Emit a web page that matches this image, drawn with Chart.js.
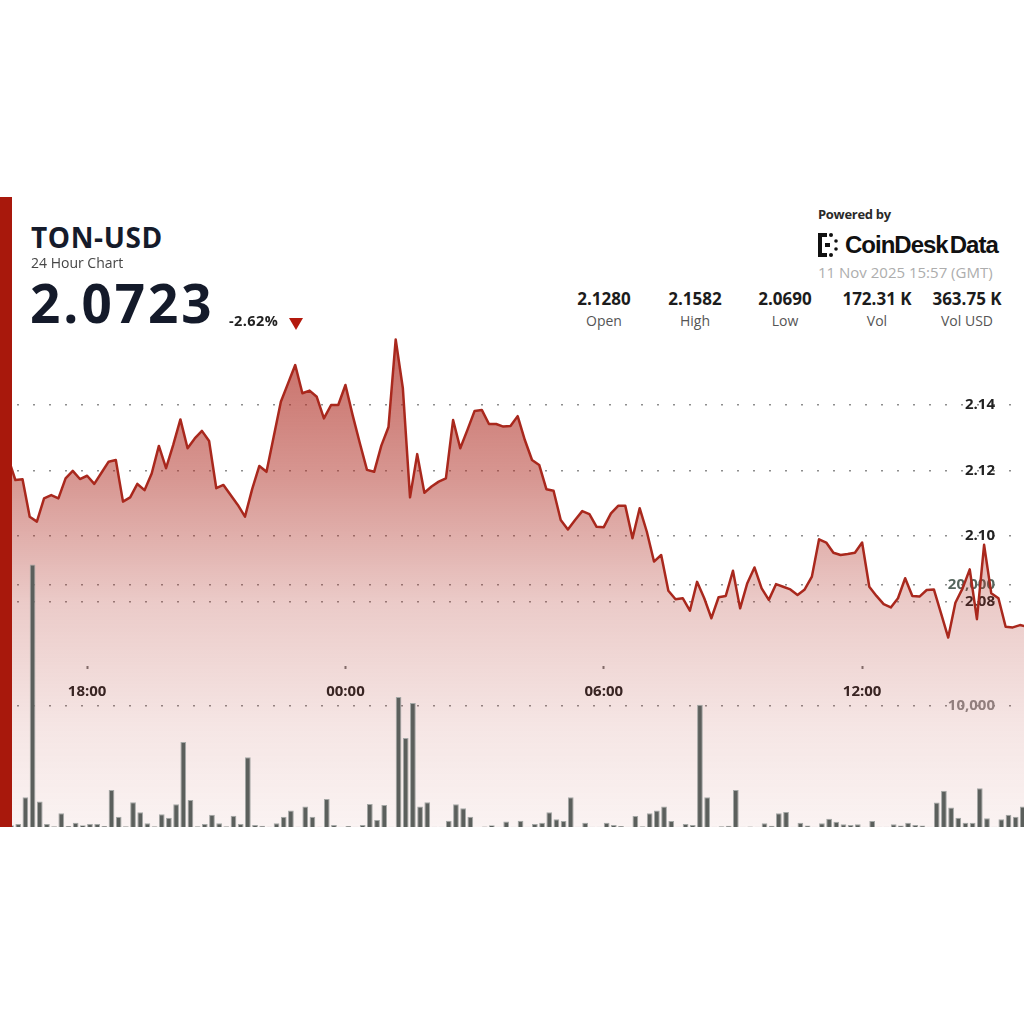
<!DOCTYPE html>
<html lang="en">
<head>
<meta charset="utf-8">
<title>TON-USD 24 Hour Chart</title>
<script src="https://cdn.jsdelivr.net/npm/chart.js@4.4.1/dist/chart.umd.min.js"></script>
<style>
  html, body { margin: 0; padding: 0; background: #fff; }
  body { font-family: "Open Sans", "Noto Sans", sans-serif; }
  #page { position: relative; width: 1024px; height: 1024px; overflow: hidden; background: #fff; }
  #chart-wrap { position: absolute; left: 0; top: 330px; width: 1024px; height: 497px; }
  #redbar { position: absolute; left: 0; top: 197px; width: 12px; height: 630px; background: #a8180c; z-index: 5; }
  .t { position: absolute; line-height: 1; white-space: nowrap; }
  #title { left: 31px; top: 223px; font-size: 28px; font-weight: 700; color: #151b2b; letter-spacing: 0.6px; }
  #sub { left: 31px; top: 256px; font-size: 14px; color: #454545; }
  #price { left: 30px; top: 276px; font-size: 53px; font-weight: 700; color: #141a2a; letter-spacing: 3px; }
  #change { left: 229px; top: 314px; font-size: 14.5px; font-weight: 700; color: #222; letter-spacing: 0.4px; }
  #down { position: absolute; left: 289px; top: 318px; width: 0; height: 0;
          border-left: 7px solid transparent; border-right: 7px solid transparent; border-top: 12px solid #b3190d; }
  #powered { left: 818px; top: 208px; font-size: 13px; font-weight: 700; color: #2a2a2a; letter-spacing: -0.3px; }
  #logo { position: absolute; left: 818px; top: 233px; }
  #brand { left: 845px; top: 233px; font-family: "Liberation Sans", Arial, sans-serif; font-size: 24px; font-weight: 700; color: #111; letter-spacing: -1px; }
  #brand span { margin-left: 2px; }
  #stamp { left: 818px; top: 265px; font-size: 15px; color: #adadad; }
  .sv { width: 110px; text-align: center; top: 290px; font-size: 17px; font-weight: 700; color: #1c1c1c; }
  .sl { width: 110px; text-align: center; top: 314px; font-size: 14px; color: #555; }
</style>
</head>
<body>
<div id="page">
  <div id="chart-wrap"><canvas id="chart" width="1024" height="497"></canvas></div>
  <div id="redbar"></div>

  <div class="t" id="title">TON-USD</div>
  <div class="t" id="sub">24 Hour Chart</div>
  <div class="t" id="price">2.0723</div>
  <div class="t" id="change">-2.62%</div>
  <div id="down"></div>

  <div class="t" id="powered">Powered by</div>
  <svg id="logo" width="22" height="24" viewBox="0 0 22 24">
    <rect x="0" y="0" width="4" height="24" fill="#111"/>
    <rect x="0" y="0" width="9" height="4" fill="#111"/>
    <rect x="0" y="20" width="9" height="4" fill="#111"/>
    <circle cx="13" cy="2" r="2" fill="#111"/>
    <circle cx="13" cy="22" r="2" fill="#111"/>
    <rect x="7" y="10" width="5" height="4" fill="#111"/>
    <circle cx="18" cy="8" r="1.8" fill="#111"/>
    <circle cx="18" cy="16" r="1.8" fill="#111"/>
  </svg>
  <div class="t" id="brand">CoinDesk<span>Data</span></div>
  <div class="t" id="stamp">11 Nov 2025 15:57 (GMT)</div>
  <div id="stats"></div>
</div>

<script>
// 10-minute samples from 16:00 (index 0) to 15:50 (index 143)
const prices = [
  2.1280, 2.1238, 2.1171, 2.1173, 2.1059, 2.1044, 2.1115, 2.1125, 2.1115, 2.1176,
  2.1199, 2.1174, 2.1184, 2.1159, 2.1193, 2.1227, 2.1232, 2.1105, 2.1118, 2.1159,
  2.1140, 2.1191, 2.1275, 2.1207, 2.1278, 2.1356, 2.1268, 2.1298, 2.1321, 2.1290,
  2.1146, 2.1156, 2.1125, 2.1095, 2.1059, 2.1143, 2.1214, 2.1196, 2.1303, 2.1410,
  2.1466, 2.1522, 2.1436, 2.1444, 2.1425, 2.1359, 2.1400, 2.1400, 2.1461, 2.1369,
  2.1284, 2.1202, 2.1196, 2.1276, 2.1333, 2.1600, 2.1451, 2.1118, 2.1250, 2.1132,
  2.1151, 2.1166, 2.1176, 2.1354, 2.1268, 2.1324, 2.1382, 2.1385, 2.1342, 2.1342,
  2.1334, 2.1336, 2.1366, 2.1293, 2.1232, 2.1217, 2.1143, 2.1138, 2.1049, 2.1020,
  2.1049, 2.1076, 2.1067, 2.1028, 2.1027, 2.1069, 2.1092, 2.1092, 2.0993, 2.1085,
  2.1013, 2.0922, 2.0942, 2.0833, 2.0807, 2.0810, 2.0772, 2.0860, 2.0810, 2.0749,
  2.0813, 2.0817, 2.0894, 2.0779, 2.0856, 2.0904, 2.0840, 2.0805, 2.0853, 2.0845,
  2.0837, 2.0820, 2.0837, 2.0876, 2.0990, 2.0980, 2.0949, 2.0942, 2.0945, 2.0949,
  2.0980, 2.0845, 2.0817, 2.0792, 2.0782, 2.0810, 2.0871, 2.0817, 2.0815, 2.0835,
  2.0837, 2.0764, 2.0690, 2.0796, 2.0840, 2.0898, 2.0746, 2.0973, 2.0825, 2.0810,
  2.0723, 2.0721, 2.0728, 2.0723
];

const volumes = [
  100, 150, 250, 2450, 21650, 2100, 250, 60, 1130, 80,
  350, 150, 250, 250, 80, 3060, 850, 60, 2040, 1210,
  300, 60, 1050, 770, 1880, 7000, 2230, 60, 250, 1000,
  300, 60, 930, 250, 5760, 160, 100, 30, 300, 850,
  1350, 30, 1680, 850, 30, 2310, 170, 20, 80, 20,
  170, 1900, 580, 1820, 20, 10720, 7330, 10220, 1680, 2040,
  20, 20, 520, 1880, 1550, 850, 0, 50, 150, 20,
  450, 20, 520, 20, 250, 350, 1210, 640, 500, 2450,
  20, 350, 20, 20, 350, 170, 80, 20, 900, 60,
  1130, 1350, 1680, 500, 20, 250, 170, 10080, 2450, 20,
  60, 100, 3060, 20, 50, 20, 300, 100, 1130, 1240,
  20, 350, 130, 20, 300, 690, 440, 220, 170, 220,
  20, 500, 20, 20, 220, 130, 350, 170, 130, 20,
  2010, 2980, 1600, 770, 350, 350, 3200, 720, 20, 640,
  1000, 850, 1680, 1200
];

const timeTickIndex = [12, 48, 84, 120];
const timeTickLabels = ["18:00", "00:00", "06:00", "12:00"];
const priceTicks = [2.08, 2.10, 2.12, 2.14];
const volumeTicks = [10000, 20000];

const statValues = ["2.1280", "2.1582", "2.0690", "172.31 K", "363.75 K"];
const statLabels = ["Open", "High", "Low", "Vol", "Vol USD"];
const statCenters = [604, 695, 785, 877, 967];

const FONT = '"Open Sans", "Noto Sans", sans-serif';
const LINE_RED = "#a9281d";
const DOT_GREY = "#8e8e8e";

function renderStats() {
  const root = document.getElementById("stats");
  statValues.forEach((v, i) => {
    const val = document.createElement("div");
    val.className = "t sv";
    val.style.left = `${statCenters[i] - 55}px`;
    val.textContent = v;
    const lab = document.createElement("div");
    lab.className = "t sl";
    lab.style.left = `${statCenters[i] - 55}px`;
    lab.textContent = statLabels[i];
    root.appendChild(val);
    root.appendChild(lab);
  });
}

function fillGradient(context) {
  const { ctx, chartArea } = context.chart;
  if (!chartArea) return "rgba(176,48,38,0.3)";
  const g = ctx.createLinearGradient(0, chartArea.top, 0, chartArea.bottom);
  g.addColorStop(0, "rgba(176,48,38,0.72)");
  g.addColorStop(0.3, "rgba(176,48,38,0.5)");
  g.addColorStop(0.55, "rgba(176,48,38,0.25)");
  g.addColorStop(0.8, "rgba(176,48,38,0.12)");
  g.addColorStop(1, "rgba(176,48,38,0.06)");
  return g;
}

// axes sit inside the plot, so they must not eat into the chart area
function noPadding(scale) {
  scale.paddingTop = 0;
  scale.paddingBottom = 0;
  scale.paddingLeft = 0;
  scale.paddingRight = 0;
  if (!scale.isHorizontal()) scale.width = 0;
}

function fixedTicks(values) {
  return (scale) => {
    scale.ticks = values.map((v) => ({ value: v }));
  };
}

function renderChart() {
  Chart.defaults.font.family = FONT;
  const dotted = { display: false, dash: [2, 14], dashOffset: 15 };

  new Chart(document.getElementById("chart"), {
    type: "line",
    data: {
      datasets: [
        {
          type: "line",
          label: "TON-USD",
          data: prices.map((p, i) => ({ x: i, y: p })),
          yAxisID: "y",
          borderColor: LINE_RED,
          borderWidth: 2.5,
          borderJoinStyle: "round",
          pointRadius: 0,
          tension: 0,
          fill: "start",
          backgroundColor: fillGradient,
          order: 1,
        },
        {
          type: "bar",
          label: "Volume",
          data: volumes.map((v, i) => ({ x: i + 0.4, y: v })),
          yAxisID: "yv",
          backgroundColor: "#5b5f5c",
          borderColor: "#a5a8a6",
          borderWidth: 1,
          barPercentage: 0.8,
          categoryPercentage: 1,
          order: 2,
        },
      ],
    },
    options: {
      responsive: false,
      animation: false,
      devicePixelRatio: 1,
      layout: { padding: 0 },
      plugins: {
        legend: { display: false },
        tooltip: { enabled: false },
        filler: { drawTime: "beforeDatasetsDraw" },
      },
      scales: {
        x: {
          type: "linear",
          min: -0.14,
          max: 142.56,
          offset: false,
          position: { y: 2.0603 },
          afterBuildTicks: fixedTicks(timeTickIndex),
          afterFit: noPadding,
          ticks: {
            callback: (v) => timeTickLabels[timeTickIndex.indexOf(v)],
            font: { size: 15, weight: "bold" },
            color: "#222",
            padding: 14,
            maxRotation: 0,
            autoSkip: false,
          },
          grid: { display: true, drawOnChartArea: false, drawTicks: true, tickLength: 3, tickWidth: 2, tickColor: "#777", offset: false },
          border: { display: false },
        },
        y: {
          type: "linear",
          position: "right",
          min: 2.01115,
          max: 2.1629,
          afterBuildTicks: fixedTicks(priceTicks),
          afterFit: noPadding,
          ticks: {
            mirror: true,
            padding: -29,
            callback: (v) => v.toFixed(2),
            font: { size: 15, weight: "bold" },
            color: "#222",
          },
          grid: { color: DOT_GREY, lineWidth: 1.5, drawTicks: false },
          border: dotted,
        },
        yv: {
          type: "linear",
          position: "right",
          min: 0,
          max: 40973,
          afterBuildTicks: fixedTicks(volumeTicks),
          afterFit: noPadding,
          ticks: {
            mirror: true,
            padding: -29,
            callback: (v) => v.toLocaleString("en-US"),
            font: { size: 15, weight: "bold" },
            color: (ctx) => (ctx.tick.value === 20000 ? "#55665d" : "#8c8c8c"),
          },
          grid: { color: DOT_GREY, lineWidth: 1.5, drawTicks: false },
          border: dotted,
        },
      },
    },
  });
}

renderStats();
renderChart();
</script>
</body>
</html>
